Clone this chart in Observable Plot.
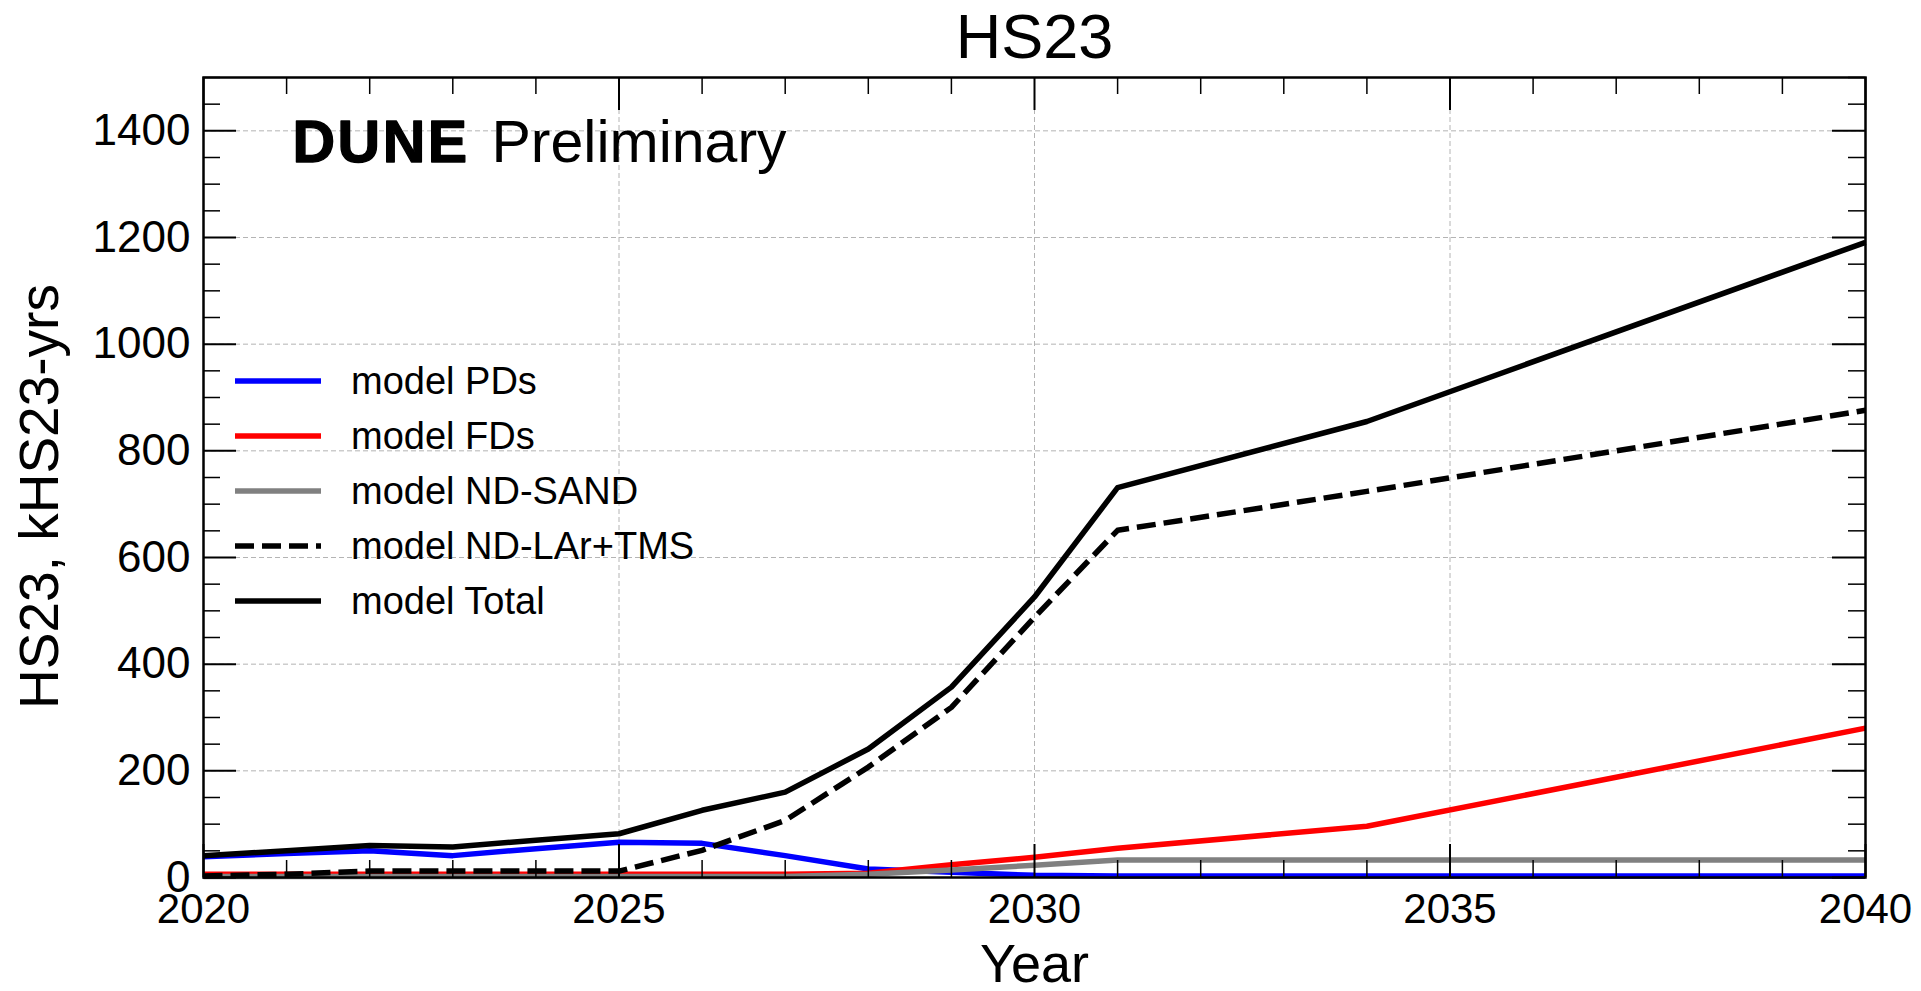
<!DOCTYPE html>
<html>
<head>
<meta charset="utf-8">
<script src="https://cdn.jsdelivr.net/npm/d3@7"></script>
<script src="https://cdn.jsdelivr.net/npm/@observablehq/plot@0.6"></script>
<style>
  html, body { margin: 0; padding: 0; background: #fff; }
  #chart svg { display: block; }
</style>
</head>
<body>
<div id="chart"></div>
<script>
// ---- data ----
const years   = [2020, 2021, 2022, 2023, 2024, 2025, 2026, 2027, 2028, 2029, 2030, 2031, 2034, 2040];
const pds     = [39, 45, 50, 41, 54, 66, 64, 41, 16, 10, 4, 3, 3, 3];
const fds     = [6, 6, 6, 6, 6, 6, 6, 6, 8, 24, 38, 55, 96, 280];
const sand    = [2, 2, 2, 2, 2, 2, 2, 2, 6, 14, 23, 33, 33, 33];
const larTms  = [3, 6, 12, 12, 12, 12, 51, 107, 207, 319, 488, 651, 724, 876];
const total   = [41, 50, 60, 57, 70, 82, 126, 160, 241, 357, 526, 731, 855, 1191];

const seriesNames  = ["model PDs", "model FDs", "model ND-SAND", "model ND-LAr+TMS", "model Total"];
const seriesValues = [pds, fds, sand, larTms, total];
const seriesColors = ["#0000ff", "#ff0000", "#808080", "#000000", "#000000"];
const seriesDash   = [null, null, null, "19,8", null];

const xMajorTicks = [2020, 2025, 2030, 2035, 2040];
const xMinorTicks = d3.range(2020, 2041, 1);
const yMajorTicks = [0, 200, 400, 600, 800, 1000, 1200, 1400];
const yMinorTicks = d3.range(0, 1501, 50);
const xGrid = [2025, 2030, 2035];
const yGrid = [200, 400, 600, 800, 1000, 1200, 1400];

const titleText = "HS23";
const xLabel = "Year";
const yLabel = "HS23, kHS23-yrs";

// ---- layout ----
const W = 1921, H = 991;
const mL = 203, mR = 56, mT = 77, mB = 114;
const fw = W - mL - mR, fh = H - mT - mB;
const FONT = "Liberation Sans, Arial, Helvetica, sans-serif";
const LW = 5.5;

const rows = seriesNames.flatMap((name, i) =>
  years.map((yr, j) => ({series: name, year: yr, value: seriesValues[i][j]})));

const lineMarks = seriesNames.map((name, i) =>
  Plot.line(rows.filter(d => d.series === name), {
    x: "year", y: "value",
    stroke: seriesColors[i], strokeWidth: LW,
    strokeDasharray: seriesDash[i] ?? undefined,
    strokeLinejoin: "round", strokeLinecap: "butt"
  }));

const chart = Plot.plot({
  width: W, height: H,
  marginLeft: mL, marginRight: mR, marginTop: mT, marginBottom: mB,
  style: {fontFamily: FONT, color: "#000", background: "#fff"},
  x: {domain: [2020, 2040]},
  y: {domain: [0, 1500]},
  marks: [
    Plot.gridX(xGrid, {stroke: "#b4b4b4", strokeOpacity: 1, strokeWidth: 1, strokeDasharray: "5,3"}),
    Plot.gridY(yGrid, {stroke: "#b4b4b4", strokeOpacity: 1, strokeWidth: 1, strokeDasharray: "5,3"}),
    ...lineMarks,
    // inward ticks: left / right
    Plot.tickY(yMajorTicks, {y: d => d, stroke: "#000", strokeWidth: 2, insetRight: fw - 33}),
    Plot.tickY(yMajorTicks, {y: d => d, stroke: "#000", strokeWidth: 2, insetLeft: fw - 33}),
    Plot.tickY(yMinorTicks.filter(v => !yMajorTicks.includes(v)), {y: d => d, stroke: "#000", strokeWidth: 1.5, insetRight: fw - 17}),
    Plot.tickY(yMinorTicks.filter(v => !yMajorTicks.includes(v)), {y: d => d, stroke: "#000", strokeWidth: 1.5, insetLeft: fw - 17}),
    // inward ticks: bottom / top
    Plot.tickX(xMajorTicks, {x: d => d, stroke: "#000", strokeWidth: 2, insetTop: fh - 33}),
    Plot.tickX(xMajorTicks, {x: d => d, stroke: "#000", strokeWidth: 2, insetBottom: fh - 33}),
    Plot.tickX(xMinorTicks.filter(v => !xMajorTicks.includes(v)), {x: d => d, stroke: "#000", strokeWidth: 1.5, insetTop: fh - 17}),
    Plot.tickX(xMinorTicks.filter(v => !xMajorTicks.includes(v)), {x: d => d, stroke: "#000", strokeWidth: 1.5, insetBottom: fh - 17}),
    Plot.frame({stroke: "#000", strokeWidth: 2.5}),
    Plot.axisY(yMajorTicks, {tickSize: 0, tickPadding: 13, fontSize: 44, label: null, tickFormat: d => String(d)}),
    Plot.axisX(xMajorTicks, {tickSize: 0, tickPadding: 16, fontSize: 42, label: null, tickFormat: d => String(d)}),
    // title and axis labels
    Plot.text([titleText], {text: d => d, frameAnchor: "top", dy: -20, lineAnchor: "bottom", textAnchor: "middle", fontSize: 63, fill: "#000"}),
    Plot.text([xLabel], {text: d => d, frameAnchor: "bottom", dy: 104, lineAnchor: "bottom", textAnchor: "middle", fontSize: 54, fill: "#000"}),
    Plot.text([yLabel], {text: d => d, frameAnchor: "left", dx: -146, dy: 19, rotate: -90, lineAnchor: "bottom", textAnchor: "middle", fontSize: 55, fill: "#000"}),
    // DUNE Preliminary
    Plot.text(["DUNE"], {text: d => d, frameAnchor: "top-left", dx: 89, dy: 84, lineAnchor: "bottom", textAnchor: "start",
      fontSize: 59, fontWeight: 700, fill: "#000", stroke: "#000", strokeWidth: 1.4}),
    Plot.text(["Preliminary"], {text: d => d, frameAnchor: "top-left", dx: 288, dy: 84, lineAnchor: "bottom", textAnchor: "start",
      fontSize: 59, fill: "#000"})
  ]
});

// letter spacing for the heavy DUNE word
d3.select(chart).selectAll("text").filter(function() { return this.textContent === "DUNE"; })
  .style("letter-spacing", "2.5px");

// legend
const leg = d3.select(chart).append("g")
  .attr("font-family", FONT).attr("font-size", 38).attr("text-anchor", "start");
seriesNames.forEach((name, i) => {
  const y = 381 + i * 55;
  leg.append("line")
    .attr("x1", 235).attr("x2", 321).attr("y1", y).attr("y2", y)
    .attr("stroke", seriesColors[i]).attr("stroke-width", LW)
    .attr("stroke-dasharray", seriesDash[i]);
  leg.append("text")
    .attr("x", 351).attr("y", y).attr("dy", "0.35em")
    .attr("text-anchor", "start")
    .attr("fill", "#000").text(name);
});

document.getElementById("chart").appendChild(chart);
</script>
</body>
</html>
